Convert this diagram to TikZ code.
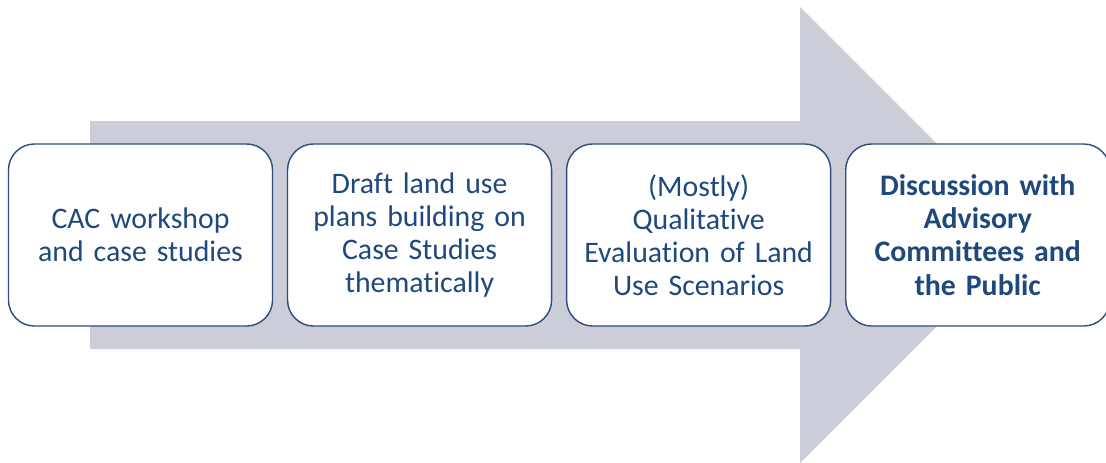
\documentclass[tikz,border=0pt]{standalone}
\usepackage{fontspec}
\setmainfont{Carlito}[Ligatures=NoCommon]
\usepackage{xcolor}
\usetikzlibrary{positioning}
\definecolor{arrowgray}{HTML}{CBCED8}
\definecolor{steptext}{HTML}{1F497D}
\definecolor{stepline}{HTML}{2C4D7E}

\tikzset{
  stepbox/.style={draw=stepline, line width=1pt, fill=white, rounded corners=0.65cm,
    minimum width=6.6cm, minimum height=4.55cm, text width=6.2cm, align=center,
    inner sep=0pt, text=steptext, font=\fontsize{21.2}{23.6}\selectfont}
}

\begin{document}
\begin{tikzpicture}[x=0.025cm, y=-0.025cm]
  \clip (0,0) rectangle (1106,462);

  % big process arrow in the background
  \fill[arrowgray] (90,121) -- (800,121) -- (800,7) -- (1028,235) -- (800,463)
    -- (800,349) -- (90,349) -- cycle;

  % the four steps
  \node[stepbox] (step1) at (140.5,235) {CAC workshop\\and case studies};
  \node[stepbox, right=0.34cm of step1] (step2) {Draft land use\\plans building on\\Case Studies\\thematically};
  \node[stepbox, right=0.34cm of step2] (step3) {(Mostly)\\Qualitative\\Evaluation of Land\\Use Scenarios};
  \node[stepbox, right=0.34cm of step3] (step4) {\textbf{Discussion with}\\\textbf{Advisory}\\\textbf{Committees and}\\\textbf{the Public}};
\end{tikzpicture}
\end{document}
